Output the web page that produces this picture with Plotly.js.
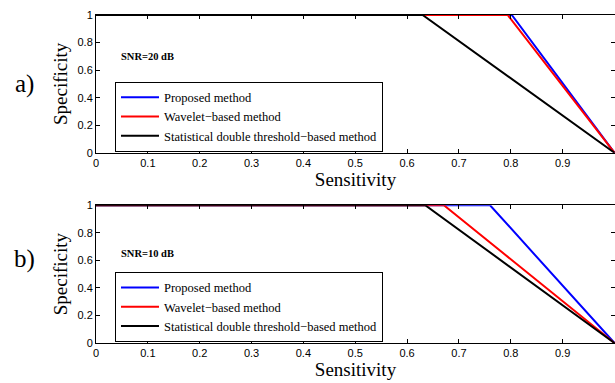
<!DOCTYPE html>
<html>
<head>
<meta charset="utf-8">
<script src="https://cdn.plot.ly/plotly-3.0.1.min.js"></script>
<style>html,body{margin:0;padding:0;background:#fff;}#chart{width:615px;height:383px;}</style>
</head>
<body>
<div id="chart"></div>
<script>
// Panel a) SNR=20 dB
const seriesNames = ['Proposed method', 'Wavelet\u2212based method', 'Statistical double threshold\u2212based method'];
const seriesColors = ['#0000ff', '#ff0000', '#000000'];
const aProposedX = [0, 0.802, 1];
const aProposedY = [1, 1, 0];
const aWaveletX = [0, 0.794, 1];
const aWaveletY = [1, 1, 0];
const aStatX = [0, 0.630, 1];
const aStatY = [1, 1, 0];
// Panel b) SNR=10 dB
const bProposedX = [0, 0.760, 1];
const bProposedY = [1, 1, 0];
const bWaveletX = [0, 0.671, 1];
const bWaveletY = [1, 1, 0];
const bStatX = [0, 0.635, 1];
const bStatY = [1, 1, 0];
const tickVals = [0, 0.1, 0.2, 0.3, 0.4, 0.5, 0.6, 0.7, 0.8, 0.9, 1];
const yTickVals = [0, 0.2, 0.4, 0.6, 0.8, 1];

function tr(x, y, i, xa, ya, leg) {
  return {x: x, y: y, type: 'scatter', mode: 'lines', name: seriesNames[i],
    line: {color: seriesColors[i], width: 2}, xaxis: xa, yaxis: ya, legend: leg, hoverinfo: 'none'};
}
const data = [
  tr(aProposedX, aProposedY, 0, 'x', 'y', 'legend'),
  tr(aWaveletX, aWaveletY, 1, 'x', 'y', 'legend'),
  tr(aStatX, aStatY, 2, 'x', 'y', 'legend'),
  tr(bProposedX, bProposedY, 0, 'x2', 'y2', 'legend2'),
  tr(bWaveletX, bWaveletY, 1, 'x2', 'y2', 'legend2'),
  tr(bStatX, bStatY, 2, 'x2', 'y2', 'legend2')
];

const tickFont = {family: 'Liberation Sans, Arial, sans-serif', size: 11, color: '#000'};
const titleFont = {family: 'Liberation Serif, Times New Roman, serif', size: 19, color: '#000'};
function xax(anchor, standoff) {
  return {range: [0, 1.001], tickvals: tickVals, ticktext: tickVals.map(String), ticks: 'inside', ticklen: 4,
    tickcolor: '#000', showline: true, linecolor: '#000', linewidth: 1, mirror: 'ticks', showgrid: false,
    zeroline: false, tickfont: tickFont, anchor: anchor, fixedrange: true, automargin: false,
    title: {text: 'Sensitivity', font: titleFont, standoff: standoff}};
}
function yax(anchor, domain) {
  return {range: [0, 1], tickvals: yTickVals, ticktext: yTickVals.map(String), ticks: 'inside', ticklen: 4,
    tickcolor: '#000', showline: true, linecolor: '#000', linewidth: 1, mirror: 'ticks', showgrid: false,
    zeroline: false, tickfont: tickFont, anchor: anchor, domain: domain, fixedrange: true, automargin: false,
    title: {text: 'Specificity', font: titleFont, standoff: 4}};
}
const legFont = {family: 'Liberation Serif, Times New Roman, serif', size: 12.5, color: '#000'};
function leg(y) {
  return {x: 0.0366, y: y, xanchor: 'left', yanchor: 'top', xref: 'paper', yref: 'paper', itemwidth: 38,
    bgcolor: '#fff', bordercolor: '#000', borderwidth: 1, font: legFont, tracegroupgap: 0};
}
const serif = 'Liberation Serif, Times New Roman, serif';
const layout = {
  width: 615, height: 383,
  margin: {l: 96, r: 0, t: 15, b: 40},
  paper_bgcolor: '#fff', plot_bgcolor: '#fff',
  showlegend: true,
  xaxis: xax('y', 0),
  yaxis: yax('x', [0.58, 1]),
  xaxis2: xax('y2', 2),
  yaxis2: yax('x2', [0, 0.42]),
  legend: leg(0.797),
  legend2: leg(0.217),
  annotations: [
    {text: '<b>SNR=20 dB</b>', xref: 'paper', yref: 'paper', x: 0.045, y: 0.875, xanchor: 'left', yanchor: 'middle',
      showarrow: false, font: {family: serif, size: 10.5, color: '#000'}},
    {text: '<b>SNR=10 dB</b>', xref: 'paper', yref: 'paper', x: 0.045, y: 0.274, xanchor: 'left', yanchor: 'middle',
      showarrow: false, font: {family: serif, size: 10.5, color: '#000'}},
    {text: 'a)', xref: 'paper', yref: 'paper', x: -0.137, y: 0.79, xanchor: 'center', yanchor: 'middle',
      showarrow: false, font: {family: serif, size: 25, color: '#000'}},
    {text: 'b)', xref: 'paper', yref: 'paper', x: -0.137, y: 0.257, xanchor: 'center', yanchor: 'middle',
      showarrow: false, font: {family: serif, size: 25, color: '#000'}}
  ]
};
Plotly.newPlot('chart', data, layout, {displayModeBar: false, staticPlot: true});
</script>
</body>
</html>
